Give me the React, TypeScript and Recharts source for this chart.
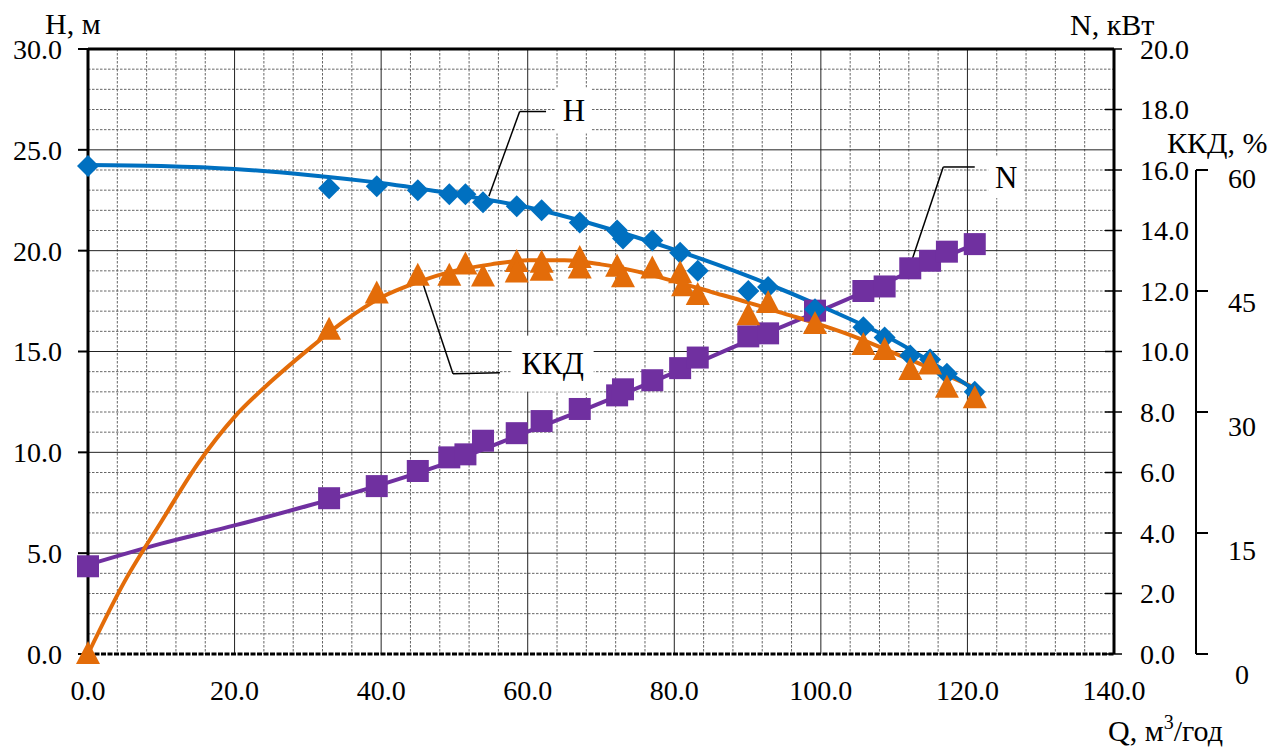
import React from "react";
import {
  ComposedChart,
  Line,
  Scatter,
  XAxis,
  YAxis,
  CartesianGrid,
  ReferenceLine,
  ReferenceDot,
} from "recharts";

const FONT = "'Liberation Serif', 'Times New Roman', serif";
const BLUE = "#0070C0";
const ORANGE = "#E36C09";
const PURPLE = "#7030A0";

// measured points: Q (m3/h), head H (m), power N (kW)
const qMeasured = [0, 32.9, 39.4, 45.0, 49.3, 51.5, 53.9, 58.5, 61.9, 67.1, 72.2, 73.0, 77.0, 80.8, 83.2, 90.1, 92.8, 99.2, 105.8, 108.7, 112.2, 114.9, 117.2, 121.0];
const headMeasured = [24.2, 23.1, 23.2, 23.0, 22.8, 22.8, 22.4, 22.2, 22.0, 21.4, 21.0, 20.6, 20.5, 19.9, 19.0, 18.0, 18.2, 17.1, 16.2, 15.7, 14.8, 14.6, 13.9, 13.0];
const powerMeasured = [2.9, 5.15, 5.55, 6.05, 6.5, 6.6, 7.05, 7.3, 7.7, 8.1, 8.55, 8.75, 9.05, 9.45, 9.8, 10.5, 10.6, 11.35, 12.0, 12.15, 12.75, 13.0, 13.3, 13.55];

// measured efficiency (ККД, %)
const qEff = [0, 32.9, 39.4, 45.0, 49.3, 51.5, 53.9, 58.5, 58.5, 61.9, 61.9, 67.1, 67.1, 72.2, 73.0, 77.0, 80.8, 81.2, 83.2, 90.1, 92.8, 99.2, 105.8, 108.7, 112.2, 114.9, 117.2, 121.0];
const effMeasured = [0, 40.2, 44.7, 46.9, 46.9, 48.3, 46.8, 48.6, 47.3, 48.5, 47.5, 49.1, 47.8, 48.0, 46.7, 47.8, 47.2, 45.6, 44.5, 42.0, 43.5, 40.9, 38.3, 37.7, 35.2, 35.9, 33.0, 31.7];

// trend curves
const qCurve = [0, 10, 20, 30, 40, 50, 60, 70, 80, 90, 100, 110, 121];
const headCurve = [24.25, 24.2, 24.05, 23.75, 23.35, 22.8, 22.15, 21.2, 20.05, 18.75, 17.25, 15.55, 13.1];
const powerCurve = [2.95, 3.65, 4.25, 4.9, 5.6, 6.4, 7.35, 8.3, 9.3, 10.35, 11.35, 12.4, 13.55];
const qEffCurve = [0, 5, 10, 15, 20, 25, 30, 35, 40, 45, 50, 55, 60, 65, 70, 75, 80, 85, 90, 95, 100, 105, 110, 115, 121];
const effCurve = [0, 9, 16.4, 23.6, 29.4, 33.8, 37.7, 41.3, 44.2, 46.1, 47.5, 48.3, 48.8, 48.8, 48.3, 47.4, 46.2, 44.9, 43.6, 42.2, 40.8, 39.2, 37.3, 35.4, 33.0];

const xTicks = [0, 20, 40, 60, 80, 100, 120, 140];
const hTicks = [0, 5, 10, 15, 20, 25, 30];
const nTicks = [0, 2, 4, 6, 8, 10, 12, 14, 16, 18, 20];
const effTicks = [0, 15, 30, 45, 60];

const pts = (xs: number[], ys: number[]) => xs.map((q, i) => ({ q, v: ys[i] }));

const headPts = pts(qMeasured, headMeasured);
const powerPts = pts(qMeasured, powerMeasured);
const effPts = pts(qEff, effMeasured);
const headLine = pts(qCurve, headCurve);
const powerLine = pts(qCurve, powerCurve);
const effLine = pts(qEffCurve, effCurve);

// grid
const minorX: number[] = [];
for (let q = 4; q < 140; q += 4) if (q % 20 !== 0) minorX.push(q);
const minorY: number[] = [];
for (let h = 1; h < 30; h += 1) if (h % 5 !== 0) minorY.push(h);

const W = 1263;
const H = 743;
const MARGIN = { top: 41, right: 15, bottom: 37, left: 20 };
const PLOT_H = H - MARGIN.top - MARGIN.bottom - 60;
const EFF_STEP = (PLOT_H * 15) / 75;

const txt = { fontFamily: FONT, fontSize: 28, fill: "#000" };
const title = { fontFamily: FONT, fontSize: 30, fill: "#000" };

const NTick = (p: any) => (
  <g>
    <line x1={p.x - 9} x2={p.x + 8} y1={p.y} y2={p.y} stroke="#000" strokeWidth={1.5} />
    <text x={p.x + 26} y={p.y} dy="0.35em" {...txt}>
      {p.payload.value.toFixed(1)}
    </text>
  </g>
);

const EffTick = (p: any) => {
  const v = p.payload.value;
  return (
    <g>
      {v < 60 && <line x1={p.x} x2={p.x} y1={p.y} y2={p.y - EFF_STEP} stroke="#000" strokeWidth={2} />}
      <line x1={p.x} x2={p.x + 12} y1={p.y} y2={p.y} stroke="#000" strokeWidth={2} />
      <text x={p.x + 46} y={p.y + 8 + (60 - v) / 5} dy="0.35em" textAnchor="middle" {...txt}>
        {v}
      </text>
    </g>
  );
};

const Diamond = ({ cx, cy }: any) => (
  <polygon points={`${cx},${cy - 11} ${cx + 11},${cy} ${cx},${cy + 11} ${cx - 11},${cy}`} fill={BLUE} />
);
const Square = ({ cx, cy }: any) => <rect x={cx - 11} y={cy - 11} width={22} height={22} fill={PURPLE} />;
const Triangle = ({ cx, cy }: any) => (
  <polygon points={`${cx},${cy - 13} ${cx + 12},${cy + 10} ${cx - 12},${cy + 10}`} fill={ORANGE} />
);

const tag = (label: string, w: number, h: number) => ({ cx, cy }: any) => (
  <g>
    <rect x={cx - w / 2} y={cy - h / 2} width={w} height={h} fill="#fff" />
    <text x={cx} y={cy} dy="0.35em" textAnchor="middle" {...title} fontSize={31}>
      {label}
    </text>
  </g>
);

export default function App() {
  return (
    <div style={{ position: "relative", width: W, height: H }}>
      <ComposedChart width={W} height={H} margin={MARGIN}>
        <CartesianGrid yAxisId="h" horizontalValues={minorY} verticalValues={minorX} stroke="#666" strokeDasharray="2.5 1.5" />
        <CartesianGrid yAxisId="h" horizontalValues={[5, 10, 15, 20, 25]} verticalValues={[20, 40, 60, 80, 100, 120]} stroke="#222" />
        <XAxis
          type="number"
          dataKey="q"
          domain={[0, 140]}
          ticks={xTicks}
          interval={0}
          tickFormatter={(v: number) => v.toFixed(1)}
          tick={txt}
          tickLine={false}
          tickSize={0}
          tickMargin={26}
          height={60}
          axisLine={{ stroke: "#000", strokeWidth: 3, strokeDasharray: "5 1.5" }}
        />
        <YAxis
          yAxisId="h"
          domain={[0, 30]}
          ticks={hTicks}
          interval={0}
          width={60}
          tickFormatter={(v: number) => v.toFixed(1)}
          tick={txt}
          tickSize={10}
          tickMargin={16}
          tickLine={{ stroke: "#000", strokeWidth: 2 }}
          axisLine={{ stroke: "#000", strokeWidth: 3 }}
        />
        <YAxis
          yAxisId="r"
          orientation="right"
          domain={[0, 75]}
          ticks={effTicks}
          interval={0}
          width={60}
          tick={EffTick}
          tickLine={false}
          tickSize={0}
          tickMargin={0}
          axisLine={false}
        />
        <YAxis
          yAxisId="p"
          orientation="right"
          domain={[0, 20]}
          ticks={nTicks}
          interval={0}
          width={82}
          tick={NTick}
          tickLine={false}
          tickSize={0}
          tickMargin={0}
          axisLine={{ stroke: "#000", strokeWidth: 3 }}
        />
        <ReferenceLine yAxisId="h" y={30} stroke="#000" strokeWidth={3} />

        <ReferenceLine yAxisId="h" ifOverflow="visible" segment={[{ x: 54.7, y: 22.7 }, { x: 58.9, y: 26.9 }]} stroke="#000" strokeWidth={1.5} />
        <ReferenceLine yAxisId="h" ifOverflow="visible" segment={[{ x: 58.9, y: 26.9 }, { x: 62.5, y: 26.9 }]} stroke="#000" strokeWidth={1.5} />
        <ReferenceLine yAxisId="h" ifOverflow="visible" segment={[{ x: 45.4, y: 18.7 }, { x: 49.8, y: 13.9 }]} stroke="#000" strokeWidth={1.5} />
        <ReferenceLine yAxisId="h" ifOverflow="visible" segment={[{ x: 49.8, y: 13.9 }, { x: 56.2, y: 13.95 }]} stroke="#000" strokeWidth={1.5} />
        <ReferenceLine yAxisId="h" ifOverflow="visible" segment={[{ x: 112.4, y: 19.5 }, { x: 116.7, y: 24.15 }]} stroke="#000" strokeWidth={1.5} />
        <ReferenceLine yAxisId="h" ifOverflow="visible" segment={[{ x: 116.7, y: 24.15 }, { x: 121.0, y: 24.15 }]} stroke="#000" strokeWidth={1.5} />

        <Line data={powerLine} dataKey="v" yAxisId="p" type="monotone" dot={false} stroke={PURPLE} strokeWidth={4} isAnimationActive={false} />
        <Line data={effLine} dataKey="v" yAxisId="r" type="monotone" dot={false} stroke={ORANGE} strokeWidth={4} isAnimationActive={false} />
        <Line data={headLine} dataKey="v" yAxisId="h" type="monotone" dot={false} stroke={BLUE} strokeWidth={4} isAnimationActive={false} />

        <Scatter data={powerPts} dataKey="v" yAxisId="p" shape={Square} isAnimationActive={false} />
        <Scatter data={headPts} dataKey="v" yAxisId="h" shape={Diamond} isAnimationActive={false} />
        <Scatter data={effPts} dataKey="v" yAxisId="r" shape={Triangle} isAnimationActive={false} />

        <ReferenceDot yAxisId="h" x={66.3} y={26.95} r={0} ifOverflow="visible" shape={tag("H", 36, 46)} />
        <ReferenceDot yAxisId="h" x={63.4} y={14.4} r={0} ifOverflow="visible" shape={tag("ККД", 82, 56)} />
        <ReferenceDot yAxisId="h" x={125.3} y={23.65} r={0} ifOverflow="visible" shape={tag("N", 36, 42)} />
      </ComposedChart>
      <svg width={W} height={H} style={{ position: "absolute", left: 0, top: 0, pointerEvents: "none", overflow: "visible" }}>
        <text x={37} y={26} {...title}>H, м</text>
        <text x={1062} y={27} {...title}>N, кВт</text>
        <text x={1159} y={145} {...title}>ККД, %</text>
        <text x={1100} y={733} {...title}>
          Q, м<tspan dy={-12} fontSize={20}>3</tspan>
          <tspan dy={12}>/год</tspan>
        </text>
      </svg>
    </div>
  );
}
